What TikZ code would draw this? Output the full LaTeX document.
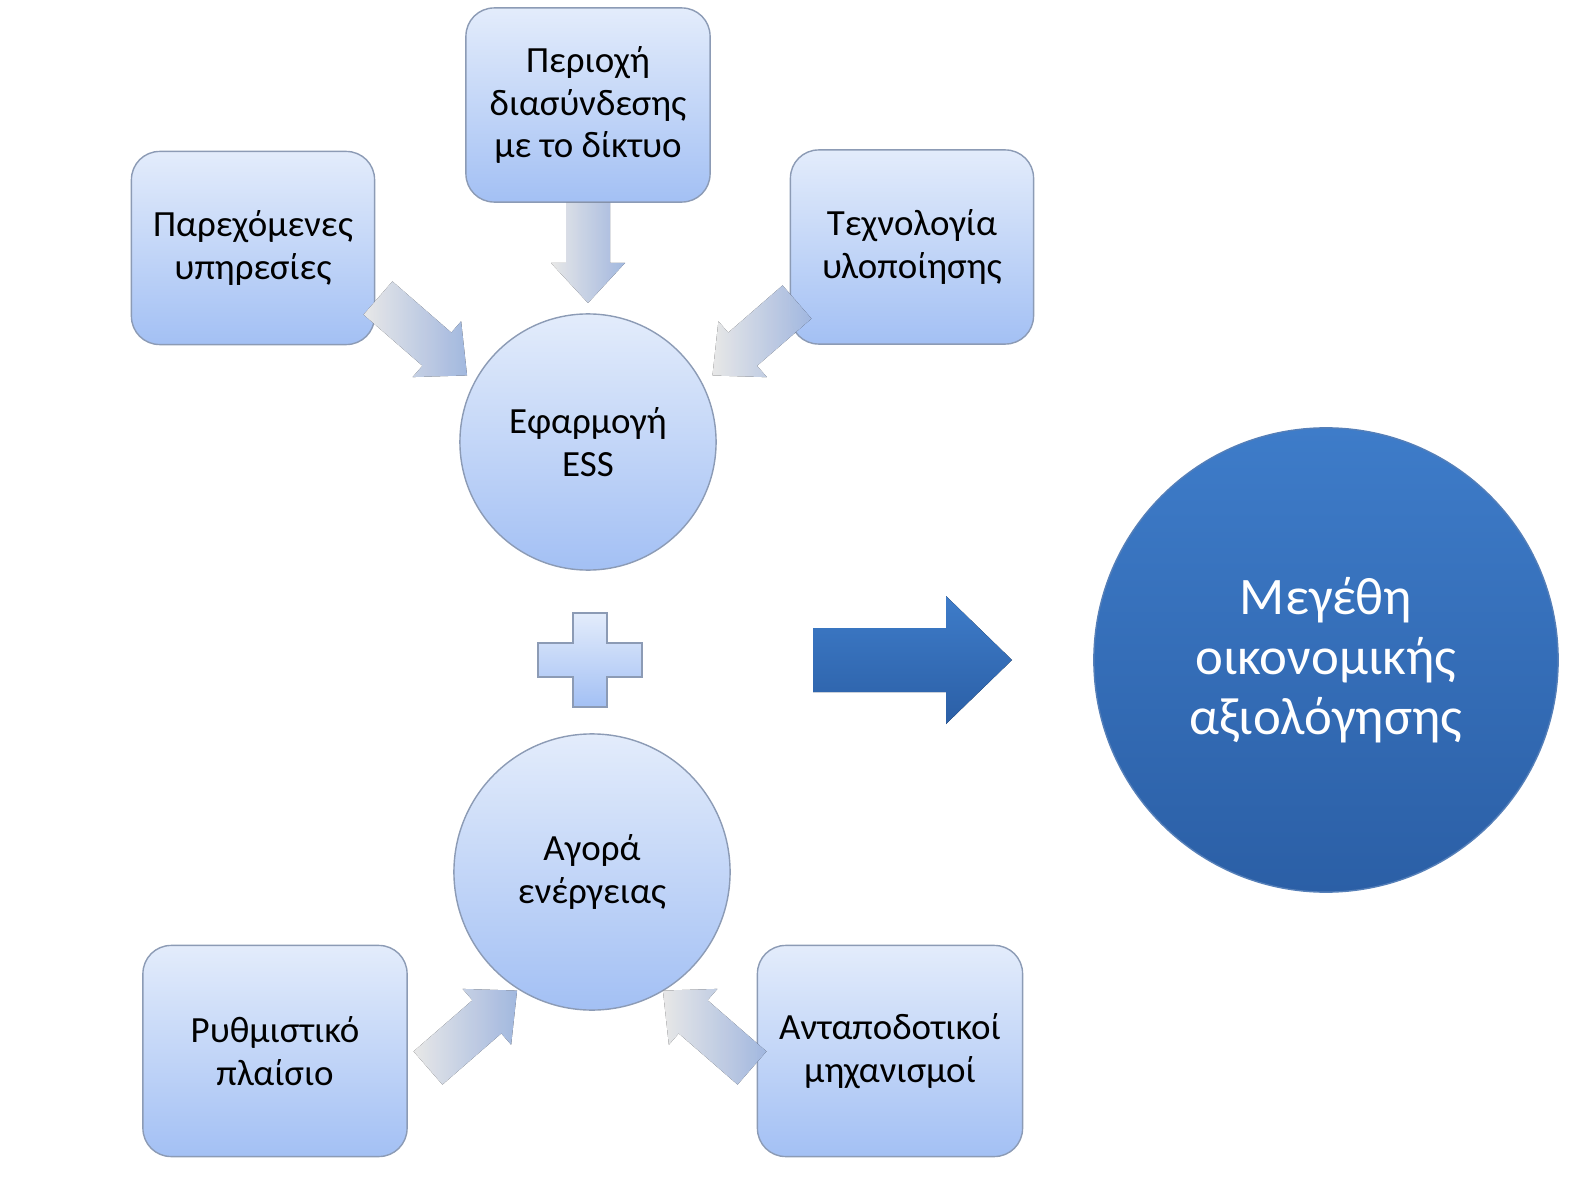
\documentclass[tikz,border=0pt]{standalone}
\usepackage{fontspec}
\setmainfont{Carlito}
\usetikzlibrary{positioning}
\definecolor{boxtop}{HTML}{E3ECFB}
\definecolor{boxbot}{HTML}{A3C0F4}
\definecolor{boxline}{HTML}{8C9BB5}
\definecolor{bigtop}{HTML}{3E7CC9}
\definecolor{bigbot}{HTML}{2B5FA6}

\begin{document}
\begin{tikzpicture}[x=0.01cm, y=-0.01cm,
    box/.style={draw=boxline, rounded corners=8pt, top color=boxtop, bottom color=boxbot,
                align=center, font=\fontsize{10.5}{12.2}\selectfont, inner sep=2pt},
    circ/.style={circle, draw=boxline, top color=boxtop, bottom color=boxbot,
                 align=center, font=\fontsize{10.5}{12.2}\selectfont},
    feed/.pic={
      \fill[left color=white, right color=boxbot!85, opacity=0.9]
        (0,-22) -- (#1-40,-22) -- (#1-40,-37) -- (#1,0) -- (#1-40,37)
        -- (#1-40,22) -- (0,22) -- cycle;
    },
  ]
  \useasboundingbox (0,0) rectangle (1584,1185);

  % upper group
  \node[box, minimum width=2.44cm, minimum height=1.94cm] at (588,105) (grid) {Περιοχή\\διασύνδεσης\\με το δίκτυο};
  \node[box, minimum width=2.43cm, minimum height=1.93cm] at (253,248) (serv) {Παρεχόμενες\\υπηρεσίες};
  \node[box, minimum width=2.43cm, minimum height=1.94cm] at (912,247) (tech) {Τεχνολογία\\υλοποίησης};
  \node[circ, minimum size=2.56cm] at (588,442) (ess) {Εφαρμογή\\ESS};

  \pic[rotate=-90] at (588,203) {feed=100};
  \pic[rotate=-41] at (378,298) {feed=118};
  \pic[rotate=-139] at (797,302) {feed=112};

  % plus
  \fill[top color=boxtop, bottom color=boxbot, draw=boxline]
    (573,613) -- (607,613) -- (607,643) -- (642,643) -- (642,677) -- (607,677)
    -- (607,707) -- (573,707) -- (573,677) -- (538,677) -- (538,643) -- (573,643) -- cycle;

  % lower group
  \node[circ, minimum size=2.76cm] at (592,872) (market) {Αγορά\\ενέργειας};
  \node[box, minimum width=2.64cm, minimum height=2.11cm] at (275,1051) (reg) {Ρυθμιστικό\\πλαίσιο};
  \node[box, minimum width=2.65cm, minimum height=2.11cm] at (890,1051) (rew) {Ανταποδοτικοί\\μηχανισμοί};

  \pic[rotate=41] at (428,1068) {feed=118};
  \pic[rotate=139] at (752,1068) {feed=118};

  % result
  \fill[top color=bigtop, bottom color=bigbot]
    (813,628) -- (946,628) -- (946,596) -- (1012,660) -- (946,724) -- (946,692)
    -- (813,692) -- cycle;
  \node[circle, minimum size=4.64cm, draw=bigbot!80, top color=bigtop, bottom color=bigbot,
        text=white, align=center, font=\fontsize{15}{17}\selectfont] at (1326,660) (eval)
        {Μεγέθη\\οικονομικής\\αξιολόγησης};
\end{tikzpicture}
\end{document}
